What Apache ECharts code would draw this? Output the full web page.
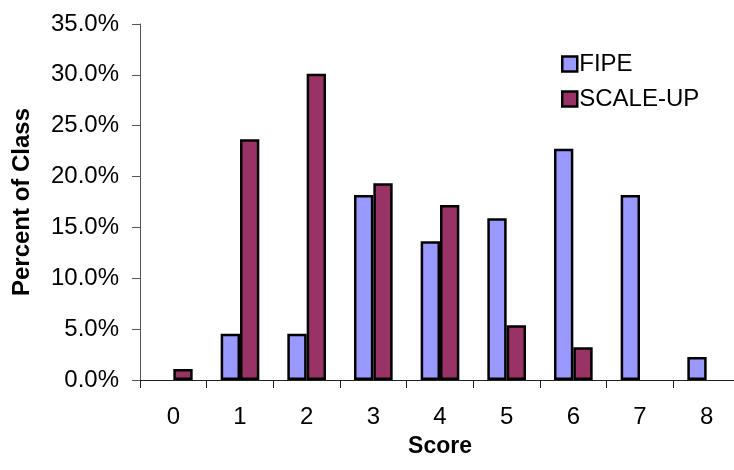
<!DOCTYPE html>
<html>
<head>
<meta charset="utf-8">
<script src="https://cdn.jsdelivr.net/npm/echarts@6/dist/echarts.min.js"></script>
<style>
  html, body { margin: 0; padding: 0; background: #fff; }
  #chart { width: 734px; height: 470px; }
</style>
</head>
<body>
<div id="chart"></div>
<script>
// Score distribution for two course formats, as a percent of each class
const scores = ['0', '1', '2', '3', '4', '5', '6', '7', '8'];
const fipe = [null, 4.55, 4.55, 18.18, 13.64, 15.91, 22.73, 18.18, 2.27];
const scaleUp = [1.08, 23.66, 30.11, 19.35, 17.20, 5.38, 3.23, null, null];
const yTicks = { min: 0, max: 35, step: 5 };

const font = 'Liberation Sans, Arial, sans-serif';
const outline = { borderColor: '#000', borderWidth: 2.5 };
const chart = echarts.init(document.getElementById('chart'), null, { renderer: 'canvas' });

chart.setOption({
  animation: false,
  backgroundColor: '#ffffff',
  textStyle: { fontFamily: font },
  legend: {
    orient: 'vertical',
    left: 556,
    top: 47,
    itemWidth: 15,
    itemHeight: 15,
    itemGap: 11,
    icon: 'rect',
    textStyle: { fontSize: 24, color: '#000', fontFamily: font, padding: [0, 0, 0, -3] },
    data: [
      { name: 'FIPE', itemStyle: Object.assign({ color: '#9999ff' }, outline) },
      { name: 'SCALE-UP', itemStyle: Object.assign({ color: '#993366' }, outline) }
    ]
  },
  grid: { left: 140, top: 24, width: 600, height: 356, containLabel: false, outerBoundsMode: 'none' },
  xAxis: {
    type: 'category',
    data: scores,
    name: 'Score',
    nameLocation: 'middle',
    nameGap: 55,
    nameMoveOverlap: false,
    nameTextStyle: { fontSize: 23, fontWeight: 'bold', color: '#000', fontFamily: font },
    axisLine: { lineStyle: { color: '#222', width: 1 } },
    axisTick: { show: true, length: 8, lineStyle: { color: '#222' } },
    axisLabel: { fontSize: 24, color: '#000', margin: 25, fontFamily: font }
  },
  yAxis: {
    type: 'value',
    min: yTicks.min,
    max: yTicks.max,
    interval: yTicks.step,
    name: 'Percent of Class',
    nameLocation: 'middle',
    nameRotate: 90,
    nameGap: 106,
    nameMoveOverlap: false,
    nameTextStyle: { fontSize: 24, fontWeight: 'bold', color: '#000', fontFamily: font },
    splitLine: { show: false },
    axisLine: { show: true, lineStyle: { color: '#555', width: 1 } },
    axisTick: { show: true, length: 8, lineStyle: { color: '#555' } },
    axisLabel: {
      fontSize: 24, color: '#000', margin: 21, fontFamily: font,
      formatter: v => v.toFixed(1) + '%'
    }
  },
  series: [
    {
      name: 'FIPE',
      type: 'bar',
      data: fipe,
      barWidth: '29%',
      barGap: '0%',
      itemStyle: Object.assign({ color: '#9999ff' }, outline)
    },
    {
      name: 'SCALE-UP',
      type: 'bar',
      data: scaleUp,
      barWidth: '29%',
      barGap: '0%',
      itemStyle: Object.assign({ color: '#993366' }, outline)
    }
  ]
});
</script>
</body>
</html>
